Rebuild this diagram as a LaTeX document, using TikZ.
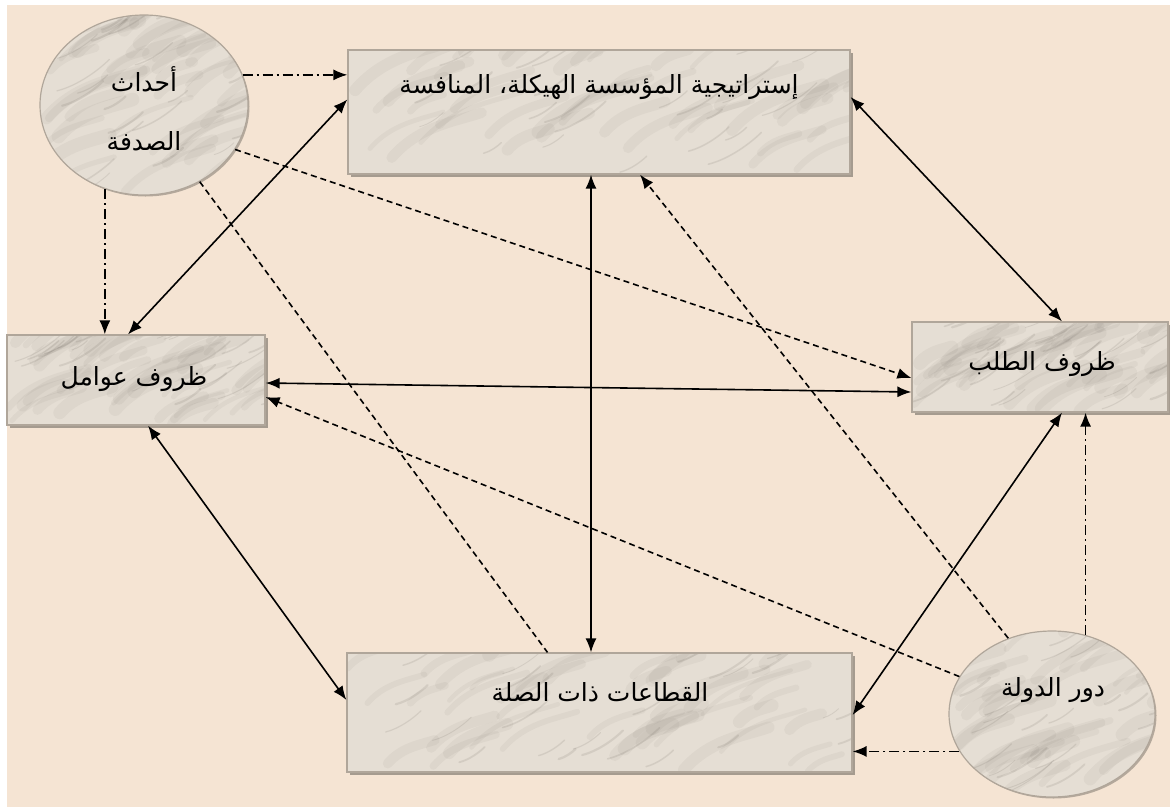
\documentclass[tikz,border=0pt]{standalone}
\usepackage{fontspec}
\newfontfamily\arabicfont[Script=Arabic]{DejaVu Sans}
\TeXXeTstate=1
\usetikzlibrary{arrows.meta,shapes.geometric,shadows,calc}
\definecolor{bg}{RGB}{245,228,211}
\definecolor{marble}{RGB}{229,222,212}
\definecolor{marbleedge}{RGB}{176,166,154}
\definecolor{marbleshadow}{RGB}{165,155,143}
\definecolor{vein}{RGB}{95,88,80}
\tikzset{
  veins/.style={path picture={
    \pgfmathsetseed{#1}
    \foreach \k in {1,...,45}{
      \pgfmathsetmacro{\u}{rnd}\pgfmathsetmacro{\v}{rnd}
      \pgfmathsetmacro{\w}{4+10*rnd}
      \pgfmathsetmacro{\len}{30+70*rnd}
      \path let \p1=(path picture bounding box.south west), \p2=(path picture bounding box.north east) in
        coordinate (vs) at ({\x1+\u*(\x2-\x1)},{\y1+\v*(\y2-\y1)});
      \draw[vein, opacity=0.06, line width=\w pt, line cap=round]
        (vs) .. controls +(\len*0.3,-\len*0.35) and +(-\len*0.3,\len*0.1) .. +(\len,-\len*0.5);
    }
    \foreach \k in {1,...,25}{
      \pgfmathsetmacro{\u}{rnd}\pgfmathsetmacro{\v}{rnd}
      \pgfmathsetmacro{\w}{0.8+1.5*rnd}
      \pgfmathsetmacro{\len}{15+40*rnd}
      \path let \p1=(path picture bounding box.south west), \p2=(path picture bounding box.north east) in
        coordinate (vs) at ({\x1+\u*(\x2-\x1)},{\y1+\v*(\y2-\y1)});
      \draw[vein, opacity=0.13, line width=\w pt, line cap=round]
        (vs) .. controls +(\len*0.4,-\len*0.1) and +(-\len*0.2,\len*0.2) .. +(\len,-\len*0.6);
    }
  }},
  box/.style={rectangle, draw=marbleedge, line width=1.2pt, fill=marble, inner sep=0pt,
    drop shadow={shadow xshift=3pt, shadow yshift=-3pt, fill=marbleshadow, opacity=1}},
  oval/.style={ellipse, draw=marbleedge, line width=1.2pt, fill=marble, inner sep=0pt,
    drop shadow={shadow xshift=1.5pt, shadow yshift=-1.5pt, fill=marbleshadow, opacity=0.8}},
  lbl/.style={font=\arabicfont\fontsize{25}{29}\selectfont, inner sep=0pt, text=black},
  conn/.style={line width=1.6pt, black},
  both/.style={conn, {Latex[length=14pt,width=11pt]}-{Latex[length=14pt,width=11pt]}},
  one/.style={conn, -{Latex[length=14pt,width=11pt]}},
  dashline/.style={dash pattern=on 6pt off 4pt},
  dashdot/.style={dash pattern=on 10pt off 4pt on 2pt off 4pt},
}
\begin{document}
\begin{tikzpicture}[x=1pt,y=-1pt]
\useasboundingbox (0,0) rectangle (1170,807);
\fill[white] (0,0) rectangle (1170,807);
\fill[bg] (7,5) rectangle (1170,807);

% shapes
\node[oval, veins=3, minimum width=208pt, minimum height=180pt] (chance) at (144,105) {};
\node[box, veins=5, minimum width=502pt, minimum height=124pt] (strat) at (599,112) {};
\node[box, veins=7, minimum width=258pt, minimum height=90pt] (factor) at (136,380) {};
\node[box, veins=9, minimum width=256pt, minimum height=90pt] (demand) at (1040,367) {};
\node[box, veins=11, minimum width=505pt, minimum height=119pt] (related) at (599.5,712.5) {};
\node[oval, veins=13, minimum width=206pt, minimum height=166pt] (gov) at (1052,714) {};

% connectors
\draw[one, dashdot] (chance.17) -- (chance.17 -| strat.west);
\draw[one, dashdot] (chance.245) -- (chance.245 |- factor.north);
\draw[both] ([yshift=-50pt]strat.north west) -- ([xshift=-8pt]factor.north);
\draw[one, dashline] (chance.334) -- ([yshift=-11pt]demand.west);
\draw[conn, dashline] (chance.306) -- ([xshift=-52pt]related.north);
\draw[both] ([xshift=-8pt]strat.south) -- ([xshift=-8.5pt]related.north);
\draw[one, dashline] (gov.120) -- ([xshift=41pt]strat.south);
\draw[both] ([yshift=15pt]strat.east) -- ([xshift=22pt]demand.north);
\draw[both] ([yshift=-3pt]factor.east) -- ([yshift=-25pt]demand.west);
\draw[one, dashline] (gov.158) -- ([yshift=-17pt]factor.east);
\draw[both] ([xshift=12pt]factor.south) -- ([yshift=12.5pt]related.west);
\draw[both] ([xshift=22pt]demand.south) -- ([yshift=-2.5pt]related.east);
\draw[one, dashdot] (gov.67) -- (gov.67 |- demand.south);
\draw[one, dashdot] (gov.202) -- (gov.202 -| related.east);

% labels
\node[lbl] (t1) at (144,79) {\beginR أحداث\endR};
\node[lbl] (t2) at (144,141) {\beginR الصدفة\endR};
\node[lbl] (t3) at (599,87) {\beginR إستراتيجية المؤسسة الهيكلة، المنافسة\endR};
\node[lbl] (t4) at (134,379) {\beginR ظروف عوامل\endR};
\node[lbl] (t5) at (1042,364) {\beginR ظروف الطلب\endR};
\node[lbl] (t6) at (600,692) {\beginR القطاعات ذات الصلة\endR};
\node[lbl] (t7) at (1053,690) {\beginR دور الدولة\endR};
\end{tikzpicture}
\end{document}
